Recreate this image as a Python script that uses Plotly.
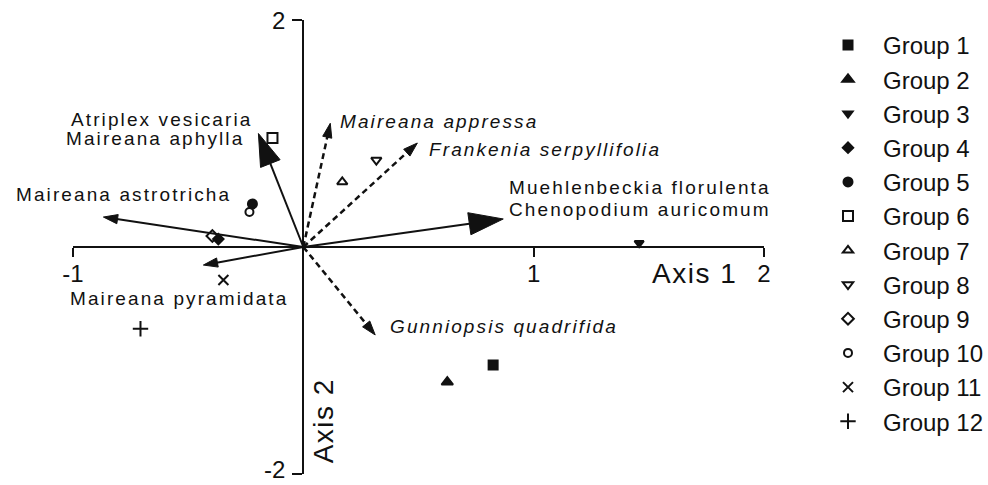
import plotly.graph_objects as go

# --- ordination scores of the site groups (Axis 1, Axis 2) ---
groups = [f"Group {i}" for i in range(1, 13)]
group_x = [0.824, 0.625, 1.458, -0.369, -0.221, -0.134, 0.169, 0.317, -0.395, -0.234, -0.347, -0.707]
group_y = [-1.04, -1.19, 0.035, 0.07, 0.379, 0.96, 0.573, 0.766, 0.097, 0.308, -0.29, -0.72]
group_symbols = ["square", "triangle-up", "triangle-down", "diamond", "circle",
                 "square-open", "triangle-up-open", "triangle-down-open", "diamond-open",
                 "circle-open", "x-thin-open", "cross-thin-open"]
group_sizes = [9, 10, 8, 8, 9, 10, 9, 9, 9, 8, 10, 11]

# --- species vectors (biplot arrows) ---
vec_names = ["Atriplex vesicaria / Maireana aphylla", "Maireana astrotricha",
             "Maireana pyramidata", "Muehlenbeckia florulenta / Chenopodium auricomum",
             "Maireana appressa", "Frankenia serpyllifolia", "Gunniopsis quadrifida"]
vec_x = [-0.195, -0.868, -0.434, 0.868, 0.117, 0.495, 0.312]
vec_y = [1.0, 0.264, -0.159, 0.247, 1.09, 0.916, -0.775]
vec_dashed = [False, False, False, False, True, True, True]
vec_head = [34, 15, 15, 36, 15, 15, 15]

# --- species labels ---
label_text = ["Atriplex vesicaria", "Maireana aphylla", "Maireana astrotricha",
              "Maireana pyramidata", "Muehlenbeckia florulenta", "Chenopodium auricomum",
              "Maireana appressa", "Frankenia serpyllifolia", "Gunniopsis quadrifida"]
label_italic = [False, False, False, False, False, False, True, True, True]
# left edge / vertical centre of each label, in screen pixels
label_px = [(68, 119), (63, 139), (13, 194.5), (67, 298), (507, 187), (507, 210),
            (338, 121.5), (427, 149.5), (388, 326)]

x_ticks = [-1, 1, 2]
y_ticks = [-2, 2]
x_range = [-1, 2]
y_range = [-2, 2]

W, H = 988, 485
PL, PR, PT, PB = 72.5, 764, 20, 474  # plot area in pixels
FONT = "Arial, Liberation Sans, sans-serif"
INK = "#111111"


def px_to_paper_x(px):
    return (px - PL) / (PR - PL)


def px_to_paper_y(py):
    return 1 - (py - PT) / (PB - PT)


fig = go.Figure()

# arrows: shaft from the origin plus an arrowhead marker at the tip
for name, x, y, dashed, head in zip(vec_names, vec_x, vec_y, vec_dashed, vec_head):
    fig.add_trace(go.Scatter(
        x=[0, x], y=[0, y], mode="lines+markers", name=name, showlegend=False,
        hoverinfo="skip", cliponaxis=False,
        line=dict(color=INK, width=2.5 if dashed else 2, dash="6px,4px" if dashed else "solid"),
        marker=dict(symbol=["circle", "arrow"], size=[0, head], angleref="previous",
                    color=INK, opacity=1, line=dict(width=1, color=INK)),
    ))

# site groups
for g, x, y, sym, sz in zip(groups, group_x, group_y, group_symbols, group_sizes):
    fig.add_trace(go.Scatter(
        x=[x], y=[y], mode="markers", name=g, cliponaxis=False,
        marker=dict(symbol=sym, size=sz, color=INK, line=dict(color=INK, width=2)),
    ))

annotations = []
for txt, it, (lx, ly) in zip(label_text, label_italic, label_px):
    annotations.append(dict(
        x=px_to_paper_x(lx), y=px_to_paper_y(ly), xref="paper", yref="paper",
        xanchor="left", yanchor="middle",
        text=f'<span style="letter-spacing:2.1px">{txt}</span>', showarrow=False,
        font=dict(family=FONT, size=19, color=INK, style="italic" if it else "normal"),
    ))

# Axis 2 tick labels, placed left of their tick marks
for t in y_ticks:
    annotations.append(dict(
        x=0, y=t, xref="x", yref="y", xanchor="right",
        yanchor="bottom" if t < 0 else "middle",
        xshift=-16, yshift=-11 if t < 0 else 0,
        text=str(t), showarrow=False,
        font=dict(family=FONT, size=24, color=INK)))

# axis titles
annotations.append(dict(
    x=px_to_paper_x(694), y=px_to_paper_y(273), xref="paper", yref="paper",
    xanchor="center", yanchor="middle",
    text='<span style="letter-spacing:1.5px">Axis 1</span>', showarrow=False,
    font=dict(family=FONT, size=28, color=INK)))
annotations.append(dict(
    x=px_to_paper_x(323), y=px_to_paper_y(421), xref="paper", yref="paper",
    xanchor="center", yanchor="middle",
    text='<span style="letter-spacing:1.5px">Axis 2</span>', showarrow=False, textangle=-90,
    font=dict(family=FONT, size=28, color=INK)))

fig.update_layout(
    width=W, height=H,
    margin=dict(l=PL, r=W - PR, t=PT, b=H - PB, autoexpand=False),
    paper_bgcolor="white", plot_bgcolor="white",
    font=dict(family=FONT, color=INK),
    xaxis=dict(range=x_range, anchor="free", position=0.5, showgrid=False, zeroline=False,
               showline=True, linecolor=INK, linewidth=2, ticks="outside", ticklen=9,
               tickwidth=2, tickcolor=INK, tickvals=x_ticks, ticktext=[str(t) for t in x_ticks],
               ticklabelstandoff=-4, ticklabeloverflow="allow", automargin=False,
               tickfont=dict(size=24, color=INK, family=FONT)),
    yaxis=dict(range=y_range, anchor="free", position=1 / 3, showgrid=False, zeroline=False,
               showline=True, linecolor=INK, linewidth=2, ticks="outside", ticklen=10,
               tickwidth=2, tickcolor=INK, tickvals=y_ticks, showticklabels=False,
               automargin=False),
    legend=dict(x=813 / W, y=1 - 23 / H, xref="container", yref="container",
                xanchor="left", yanchor="top", font=dict(size=24, family=FONT, color=INK),
                itemwidth=60, bgcolor="rgba(0,0,0,0)", traceorder="normal", maxheight=470),
    annotations=annotations,
    showlegend=True,
)

fig.write_html("out.html")
